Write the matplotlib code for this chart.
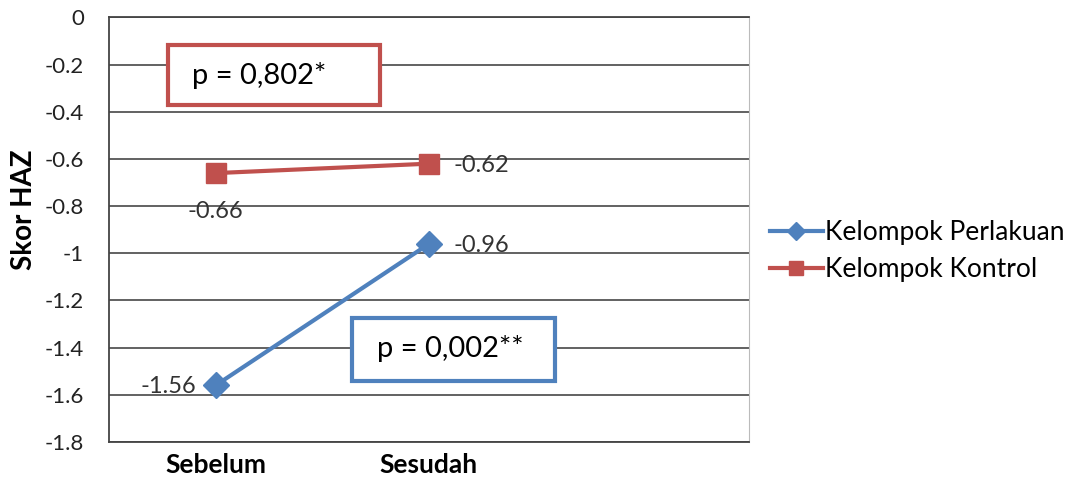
import numpy as np
import matplotlib
matplotlib.use('Agg')
import matplotlib.pyplot as plt
from matplotlib.patches import Rectangle

plt.rcParams['font.family'] = ['Lato', 'DejaVu Sans']

kategori = ['Sebelum', 'Sesudah', '']
perlakuan = [-1.56, -0.96]
kontrol = [-0.66, -0.62]
yticks = [0, -0.2, -0.4, -0.6, -0.8, -1, -1.2, -1.4, -1.6, -1.8]

biru = '#4F81BD'
merah = '#C0504D'

fig = plt.figure(figsize=(10.82, 4.83), dpi=100)
ax = fig.add_axes([0.1007, 0.0849, 0.5915, 0.879])

x = np.arange(len(perlakuan))
ax.plot(x, perlakuan, color=biru, lw=3, marker='D', ms=13, label='Kelompok Perlakuan', zorder=4)
ax.plot(x, kontrol, color=merah, lw=3, marker='s', ms=15, label='Kelompok Kontrol', zorder=4)

ax.set_xlim(-0.5, 2.5)
ax.set_ylim(-1.8, 0)
ax.set_yticks(yticks)
ax.set_yticklabels([str(v) for v in yticks], fontsize=16, color='#222222')
ax.set_xticks(np.arange(len(kategori)))
ax.set_xticklabels(kategori, fontsize=19, fontweight='bold')
ax.tick_params(length=0)
ax.tick_params(axis='x', pad=8)
ax.tick_params(axis='y', pad=18)
ax.grid(axis='y', color='#555555', lw=1.3)
ax.set_axisbelow(True)
for s in ['left', 'bottom', 'top']:
    ax.spines[s].set_color('#444444')
    ax.spines[s].set_linewidth(1.3)
ax.spines['right'].set_color('#BBBBBB')
ax.set_ylabel('Skor HAZ', fontsize=20, fontweight='bold')
ax.yaxis.set_label_coords(-0.1125, 0.546)

# label nilai
ax.annotate('-0.66', (0, kontrol[0]), xytext=(0, -28), textcoords='offset points',
            ha='center', va='center', fontsize=17, color='#333333')
ax.annotate('-0.62', (1, kontrol[1]), xytext=(18, -1), textcoords='offset points',
            ha='left', va='center', fontsize=17, color='#333333')
ax.annotate('-0.96', (1, perlakuan[1]), xytext=(18, -1), textcoords='offset points',
            ha='left', va='center', fontsize=17, color='#333333')
ax.annotate('-1.56', (0, perlakuan[0]), xytext=(-14, -1), textcoords='offset points',
            ha='right', va='center', fontsize=17, color='#333333')

# kotak p-value
ax.add_patch(Rectangle((-0.223, -0.371), 0.993, 0.254, facecolor='white',
                       edgecolor=merah, lw=3, zorder=3))
ax.text(-0.11, -0.245, 'p = 0,802*', fontsize=21, va='center', ha='left', zorder=5)
ax.add_patch(Rectangle((0.639, -1.541), 0.952, 0.267, facecolor='white',
                       edgecolor=biru, lw=3, zorder=3))
ax.text(0.755, -1.405, 'p = 0,002**', fontsize=21, va='center', ha='left', zorder=5)

ax.legend(loc='center left', bbox_to_anchor=(1.0, 0.45), frameon=False, fontsize=19,
          handlelength=2.0, handletextpad=0.1, borderaxespad=0.4, labelspacing=0.45,
          markerscale=0.7)

fig.savefig('out.png', dpi=100)
